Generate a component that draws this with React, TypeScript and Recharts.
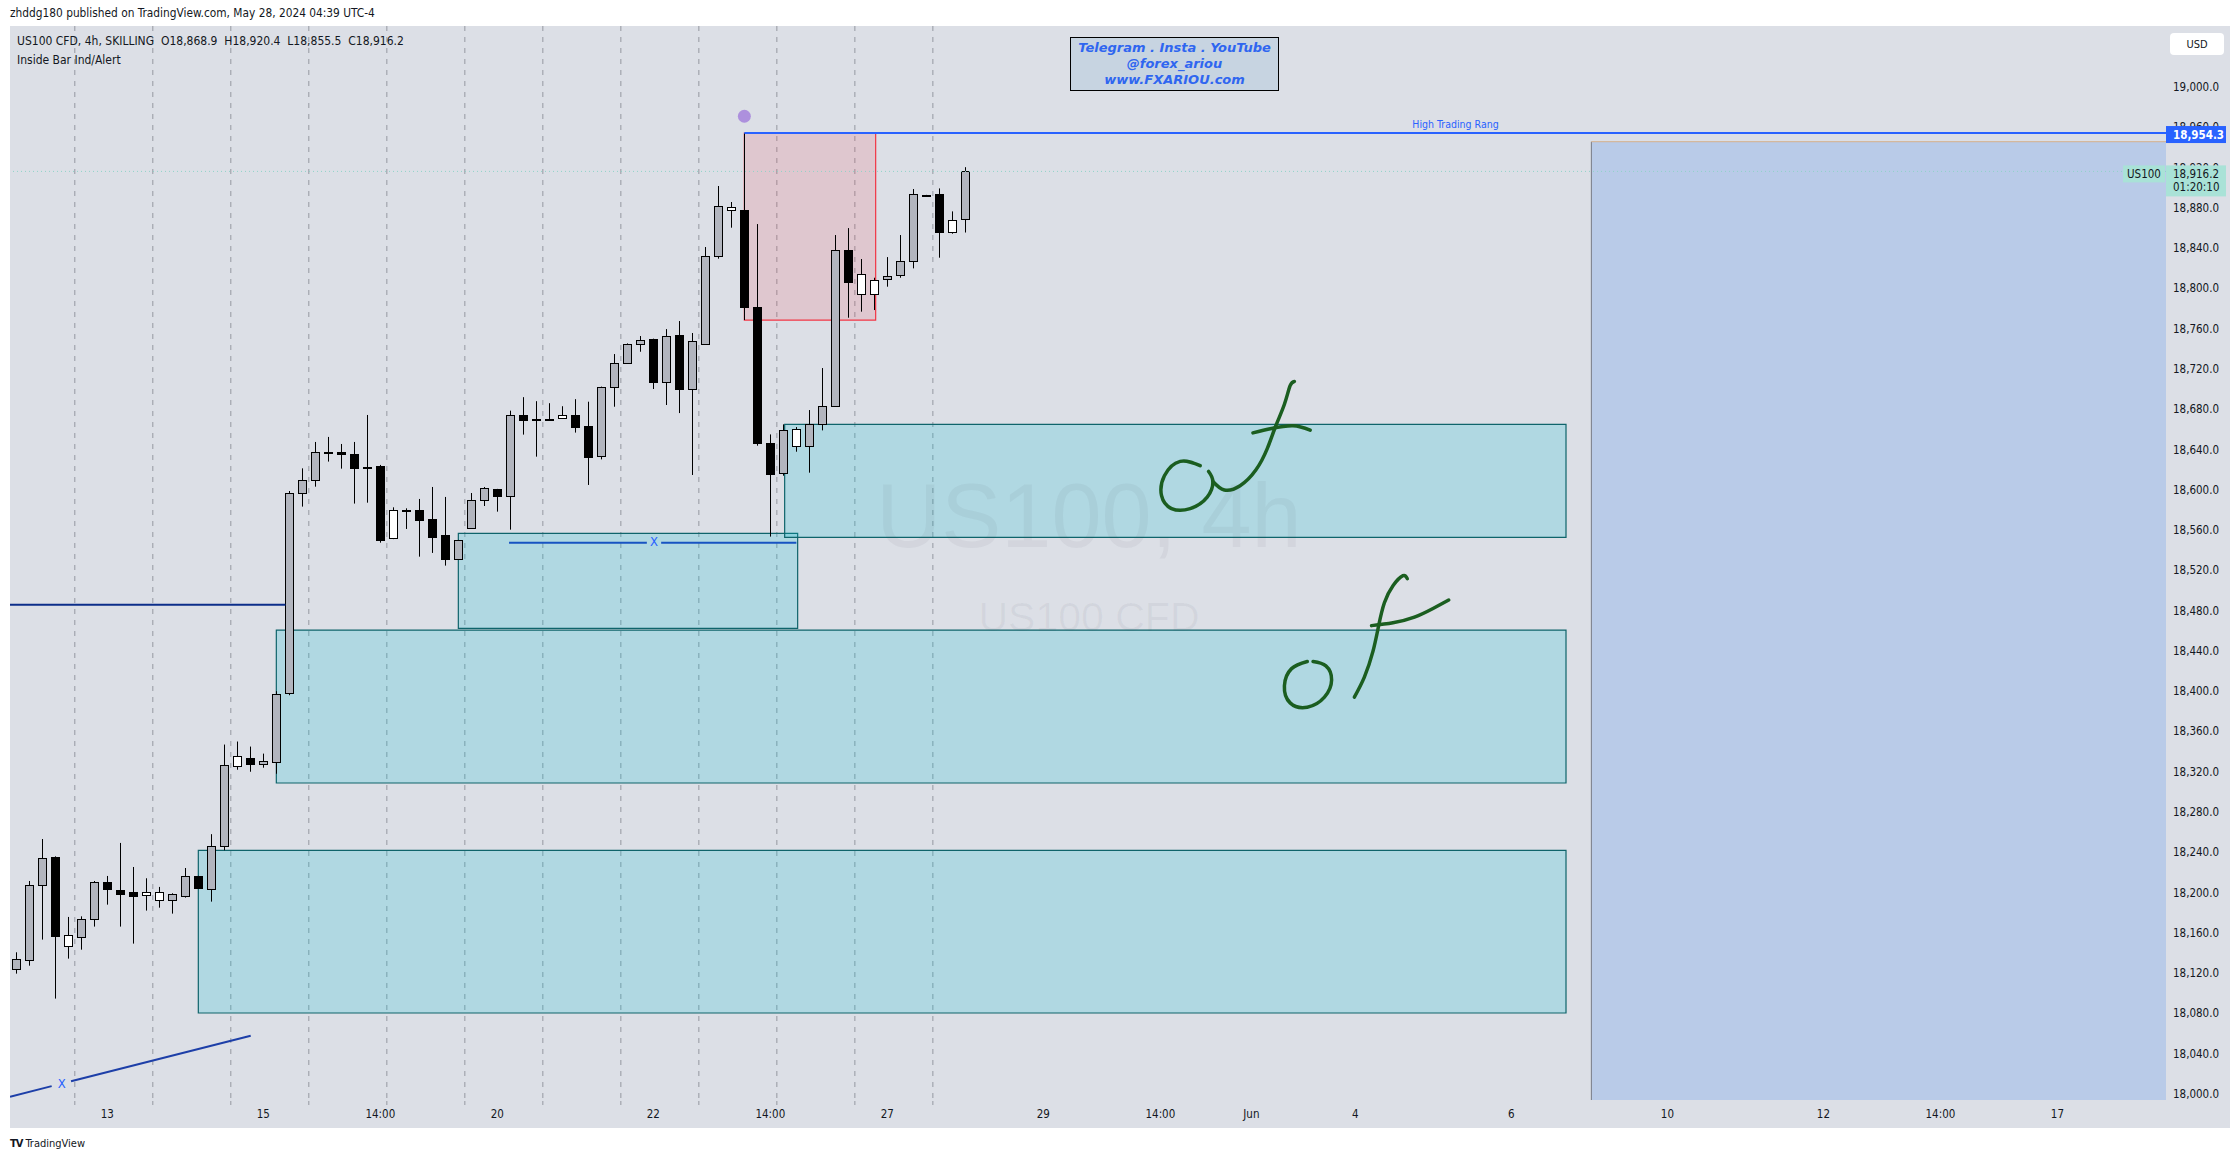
import {
  ComposedChart,
  Bar,
  Line,
  XAxis,
  YAxis,
  CartesianGrid,
  ReferenceArea,
  ReferenceLine,
  ReferenceDot,
} from 'recharts';

// US100 CFD 4h candles, one per index (0 = first bar on the left)
const OPEN = [
  18123.8, 18132.7, 18207.2, 18235.4, 18146.6, 18155.6, 18173.5, 18210.2, 18202.3, 18200.6,
  18197.3, 18192.3, 18192.3, 18197.0, 18216.2, 18203.9, 18246.5, 18326.0, 18334.0, 18328.0,
  18330.0, 18397.9, 18596.5, 18609.4, 18637.5, 18637.2, 18635.2, 18623.0, 18623.7, 18551.8,
  18579.6, 18580.0, 18571.0, 18555.1, 18531.6, 18561.8, 18589.6, 18600.5, 18594.2, 18674.3,
  18670.0, 18670.0, 18671.0, 18674.3, 18663.4, 18633.5, 18701.7, 18725.5, 18744.4, 18749.7,
  18707.3, 18753.4, 18700.4, 18744.4, 18831.8, 18877.5, 18877.5, 18781.2, 18646.8, 18617.0,
  18643.1, 18643.1, 18665.0, 18682.8, 18837.8, 18794.1, 18794.1, 18809.0, 18812.9, 18826.8,
  18892.6, 18893.4, 18855.6, 18868.9,
];
const HIGH = [
  18140.7, 18211.5, 18253.2, 18236.0, 18175.8, 18176.4, 18211.5, 18216.5, 18249.3, 18225.4,
  18214.2, 18205.6, 18199.3, 18224.4, 18216.6, 18258.0, 18347.0, 18350.0, 18345.0, 18338.0,
  18400.0, 18598.8, 18621.3, 18647.5, 18652.5, 18645.5, 18647.5, 18674.3, 18624.7, 18582.6,
  18581.6, 18590.9, 18602.8, 18592.9, 18550.3, 18596.8, 18602.8, 18600.9, 18678.6, 18692.0,
  18688.0, 18686.0, 18683.0, 18690.0, 18687.5, 18702.5, 18734.8, 18745.4, 18752.7, 18750.1,
  18759.6, 18767.6, 18755.7, 18841.1, 18901.7, 18885.8, 18954.3, 18863.9, 18655.0, 18665.0,
  18662.3, 18679.2, 18720.9, 18853.0, 18859.9, 18829.2, 18810.6, 18831.1, 18853.0, 18898.7,
  18892.9, 18899.3, 18876.5, 18920.4,
];
const LOW = [
  18119.5, 18127.4, 18153.3, 18094.7, 18134.4, 18143.3, 18166.2, 18188.0, 18166.2, 18149.3,
  18182.1, 18185.0, 18179.1, 18195.0, 18204.5, 18191.0, 18242.0, 18322.0, 18320.0, 18324.0,
  18318.0, 18396.0, 18583.3, 18603.1, 18628.0, 18621.0, 18586.3, 18587.2, 18547.5, 18551.0,
  18561.1, 18533.6, 18537.3, 18524.7, 18531.2, 18561.2, 18583.9, 18578.3, 18560.4, 18654.8,
  18632.9, 18669.0, 18670.5, 18656.8, 18604.8, 18630.2, 18682.5, 18725.0, 18737.1, 18700.1,
  18684.2, 18676.2, 18614.7, 18744.0, 18829.5, 18860.3, 18768.6, 18643.8, 18553.5, 18614.0,
  18637.8, 18617.0, 18659.0, 18682.3, 18770.9, 18776.9, 18778.5, 18801.7, 18810.6, 18819.9,
  18892.2, 18830.5, 18854.3, 18855.5,
];
const CLOSE = [
  18133.7, 18207.2, 18234.0, 18157.2, 18157.6, 18173.5, 18210.2, 18203.2, 18198.9, 18197.0,
  18200.3, 18200.6, 18198.3, 18216.2, 18204.9, 18245.9, 18327.0, 18336.0, 18328.0, 18331.0,
  18397.0, 18596.5, 18609.4, 18637.2, 18637.0, 18635.2, 18622.0, 18622.0, 18550.2, 18579.6,
  18579.0, 18570.4, 18553.5, 18531.6, 18549.8, 18589.6, 18601.5, 18594.2, 18674.3, 18669.3,
  18669.5, 18669.6, 18674.3, 18662.7, 18632.9, 18701.7, 18725.5, 18744.4, 18748.4, 18707.3,
  18752.4, 18700.4, 18747.4, 18831.8, 18881.5, 18880.5, 18781.8, 18646.8, 18616.0, 18659.0,
  18660.0, 18665.0, 18682.8, 18837.8, 18806.0, 18813.9, 18808.0, 18811.9, 18826.8, 18893.4,
  18892.4, 18856.3, 18867.6, 18916.2,
];
// u = up (grey), d = down (black), w = inside bar (white)
const KIND = [
  'u', 'u', 'u', 'd', 'w', 'u', 'u', 'd', 'd', 'd',
  'w', 'w', 'u', 'u', 'd', 'u', 'u', 'w', 'd', 'u',
  'u', 'u', 'u', 'u', 'd', 'd', 'd', 'd', 'd', 'w',
  'd', 'd', 'd', 'd', 'u', 'u', 'u', 'd', 'u', 'd',
  'd', 'd', 'w', 'd', 'd', 'u', 'u', 'u', 'u', 'd',
  'u', 'd', 'u', 'u', 'u', 'w', 'd', 'd', 'd', 'u',
  'w', 'u', 'u', 'u', 'd', 'w', 'w', 'u', 'u', 'u',
  'd', 'd', 'w', 'u',
];

const X_LABEL_POS = [7, 19, 28, 37, 49, 58, 67, 79, 88, 95, 103, 115, 127, 139, 148, 157];
const X_LABELS = ['13', '15', '14:00', '20', '22', '14:00', '27', '29', '14:00', 'Jun', '4', '6', '10', '12', '14:00', '17'];
const SESSION_POS = [4.5, 10.5, 16.5, 22.5, 28.5, 34.5, 40.5, 46.5, 52.5, 58.5, 64.5, 70.5];
const Y_TICKS = [
  18000, 18040, 18080, 18120, 18160, 18200, 18240, 18280, 18320, 18360, 18400, 18440, 18480,
  18520, 18560, 18600, 18640, 18680, 18720, 18760, 18800, 18840, 18880, 18920, 18960, 19000,
];
// ticks sitting under the price tags; the tags draw them so they end up underneath
const TICK_UNDER_HIGH = 18960;
const TICK_UNDER_LAST = 18920;

const LAST_PRICE = 18916.2;
const HIGH_RANGE = 18954.3;

// drawn zones: [from index, to index, bottom price, top price]
const ZONE_A = [59.1, 119.2, 18552.8, 18665.0];
const ZONE_B = [34.0, 60.1, 18462.4, 18556.8];
const ZONE_C = [20.0, 119.2, 18308.8, 18460.7];
const ZONE_D = [14.0, 119.2, 18080.4, 18242.0];
const RED_ZONE = [56.0, 66.1, 18768.6, 18954.3];
const PROJECTION = [121.15, 165.35, 17994, 18945.7];

const NAVY_LEVEL = [{ x: -0.485, p: 18485.9 }, { x: 20.7, p: 18485.9 }];
const X_LEVEL = [
  { x: 37.9, p: 18547.5 }, { x: 48.5, p: 18547.5 }, { x: 49.0, p: null },
  { x: 49.6, p: 18547.5 }, { x: 60.0, p: 18547.5 },
];
const TREND = [
  { x: -0.485, p: 17997.3 }, { x: 2.72, p: 18007.8 }, { x: 3.5, p: null },
  { x: 4.21, p: 18012.6 }, { x: 18.03, p: 18057.9 },
];
const HIGH_LINE = [{ x: 56, p: HIGH_RANGE }, { x: 165.35, p: HIGH_RANGE }];

// hand drawn green notes
const UP_LOOP = [
  { x: 91.06, p: 18623.9 }, { x: 89.52, p: 18628.2 }, { x: 88.31, p: 18613.9 }, { x: 88.09, p: 18594.1 },
  { x: 88.86, p: 18581.3 }, { x: 90.29, p: 18581.3 }, { x: 91.6, p: 18592.7 }, { x: 92.04, p: 18608.3 },
  { x: 91.71, p: 18618.2 },
];
const UP_HOOK = [
  { x: 92.04, p: 18608.3 }, { x: 92.92, p: 18599.8 }, { x: 94.13, p: 18604.0 }, { x: 95.34, p: 18619.6 },
  { x: 96.22, p: 18640.9 }, { x: 96.88, p: 18663.6 }, { x: 97.54, p: 18684.9 }, { x: 97.98, p: 18703.4 },
  { x: 98.31, p: 18707.6 },
];
const UP_BAR = [
  { x: 95.12, p: 18656.5 }, { x: 96.55, p: 18660.8 }, { x: 98.2, p: 18663.6 }, { x: 99.52, p: 18659.3 },
];
const LOW_LOOP = [
  { x: 99.3, p: 18429.5 }, { x: 98.09, p: 18422.4 }, { x: 97.54, p: 18405.4 }, { x: 97.98, p: 18388.4 },
  { x: 99.3, p: 18384.1 }, { x: 100.62, p: 18394.1 }, { x: 101.17, p: 18411.1 }, { x: 100.73, p: 18425.2 },
  { x: 99.74, p: 18429.5 },
];
const LOW_HOOK = [
  { x: 102.92, p: 18394.1 }, { x: 103.69, p: 18414.0 }, { x: 104.35, p: 18439.5 }, { x: 104.79, p: 18465.1 },
  { x: 105.23, p: 18487.8 }, { x: 105.89, p: 18504.7 }, { x: 106.66, p: 18514.7 }, { x: 106.99, p: 18511.8 },
];
const LOW_BAR = [
  { x: 104.24, p: 18465.1 }, { x: 105.89, p: 18467.9 }, { x: 107.54, p: 18473.5 }, { x: 108.97, p: 18482.1 },
  { x: 110.18, p: 18490.5 },
];

const X_MIN = -0.485;
const X_MAX = 165.35;
const Y_MIN = 17994;
const Y_MAX = 19060.6;

const CHART_W = 2220;
const CHART_H = 1102;
const AXIS_W = 64;
const AXIS_H = 28;
const PX_PER_UNIT = (CHART_H - AXIS_H) / (Y_MAX - Y_MIN);

const FONT = '"DejaVu Sans Condensed", "DejaVu Sans", sans-serif';
const TEXT = '#131722';
const ZONE_FILL = 'rgb(0, 188, 212)';
const ZONE_STROKE = '#0f646b';

const candles = OPEN.map((o, i) => ({ x: i, o, h: HIGH[i], l: LOW[i], c: CLOSE[i], k: KIND[i] }));

const fmt = (v: number) => v.toLocaleString('en-US', { minimumFractionDigits: 1, maximumFractionDigits: 1 });

function Candle(props: any) {
  const { x, y, width, payload } = props;
  if (x == null || y == null || !payload) return null;
  const col = Math.round(x + width / 2 - 0.5);
  const yOf = (v: number) => y + (payload.h - v) * PX_PER_UNIT;
  const top = Math.round(yOf(Math.max(payload.o, payload.c))) + 0.5;
  const bot = Math.round(yOf(Math.min(payload.o, payload.c))) + 0.5;
  const fill = payload.k === 'd' ? '#000' : payload.k === 'w' ? '#fff' : '#b2b5be';
  return (
    <g>
      <line x1={col + 0.5} x2={col + 0.5} y1={y} y2={yOf(payload.l)} stroke="#000" strokeWidth={1} />
      <rect x={col - 3.5} y={top} width={8} height={Math.max(bot - top, 1)} fill={fill} stroke="#000" strokeWidth={1} />
    </g>
  );
}

function XTick({ x, y, payload }: any) {
  const i = X_LABEL_POS.indexOf(payload.value);
  if (i >= 0) {
    return (
      <text x={x} y={y + 14} textAnchor="middle" dominantBaseline="central" fontSize={11.5} fontFamily={FONT} fill={TEXT}>
        {X_LABELS[i]}
      </text>
    );
  }
  return <line x1={x} x2={x} y1={y + 1} y2={y + 5} stroke="#9598a1" />;
}

function YTick({ x, y, payload }: any) {
  if (payload.value === TICK_UNDER_HIGH || payload.value === TICK_UNDER_LAST) return null;
  return (
    <text x={x + 7} y={y} textAnchor="start" dominantBaseline="central" fontSize={11.5} fontFamily={FONT} fill={TEXT}>
      {fmt(payload.value)}
    </text>
  );
}

function HighTag({ viewBox }: any) {
  const { x, y } = viewBox;
  const tickY = y - (TICK_UNDER_HIGH - HIGH_RANGE) * PX_PER_UNIT;
  return (
    <g fontFamily={FONT} fontSize={11.5}>
      <text x={x + 7} y={tickY} dominantBaseline="central" fill={TEXT}>{fmt(TICK_UNDER_HIGH)}</text>
      <rect x={x} y={y - 7} width={60} height={17} fill="#2962ff" />
      <text x={x + 7} y={y + 1.5} dominantBaseline="central" fontWeight={700} fill="#fff">
        {fmt(HIGH_RANGE)}
      </text>
    </g>
  );
}

function LastTag({ viewBox }: any) {
  const { x, y } = viewBox;
  const tickY = y - (TICK_UNDER_LAST - LAST_PRICE) * PX_PER_UNIT;
  return (
    <g fontFamily={FONT} fontSize={11.5} fill={TEXT}>
      <text x={x + 7} y={tickY} dominantBaseline="central">{fmt(TICK_UNDER_LAST)}</text>
      <rect x={x - 43} y={y - 6} width={42} height={17} fill="#a9e2d7" />
      <text x={x - 22} y={y + 2.5} textAnchor="middle" dominantBaseline="central">US100</text>
      <rect x={x} y={y - 6} width={60} height={31} fill="#a9e2d7" />
      <text x={x + 7} y={y + 2.5} dominantBaseline="central">{fmt(LAST_PRICE)}</text>
      <text x={x + 7} y={y + 16} dominantBaseline="central">01:20:10</text>
    </g>
  );
}

function TextMark({ viewBox, text, dy, size }: any) {
  return (
    <text x={viewBox.x} y={viewBox.y + dy} textAnchor="middle" dominantBaseline="central" fontSize={size} fontFamily={FONT} fill="#2962ff">
      {text}
    </text>
  );
}

function zone(z: number[], fill: string, opacity: number, stroke: string, key: string) {
  return (
    <ReferenceArea
      key={key}
      x1={z[0]}
      x2={z[1]}
      y1={z[2]}
      y2={z[3]}
      fill={fill}
      fillOpacity={opacity}
      stroke={stroke}
      strokeWidth={1.2}
      ifOverflow="hidden"
    />
  );
}

export default function App() {
  const scribbles = [UP_LOOP, UP_HOOK, UP_BAR, LOW_LOOP, LOW_HOOK, LOW_BAR];
  const allTicks = [...SESSION_POS, ...X_LABEL_POS].sort((a, b) => a - b);

  return (
    <div style={{ position: 'absolute', left: 0, top: 0, width: 2240, height: 1163, background: '#fff', overflow: 'hidden', fontFamily: FONT, color: TEXT }}>
      <div style={{ position: 'absolute', left: 10, top: 6, fontSize: 11.8, whiteSpace: 'nowrap' }}>
        zhddg180 published on TradingView.com, May 28, 2024 04:39 UTC-4
      </div>

      <div style={{ position: 'absolute', left: 10, top: 26, width: CHART_W, height: CHART_H, background: '#dcdfe6' }}>
        <ComposedChart width={CHART_W} height={CHART_H} data={candles} margin={{ top: 0, right: 0, bottom: 0, left: 0 }}>
          <CartesianGrid
            horizontal={false}
            stroke="#9598a1"
            strokeDasharray="5 6"
            verticalCoordinatesGenerator={({ xAxis, offset }: any) =>
              SESSION_POS.map((v) =>
                xAxis && typeof xAxis.scale === 'function'
                  ? xAxis.scale(v)
                  : offset.left + ((v - X_MIN) / (X_MAX - X_MIN)) * offset.width,
              )
            }
          />
          <XAxis
            dataKey="x"
            type="number"
            domain={[X_MIN, X_MAX]}
            allowDataOverflow
            ticks={allTicks}
            interval={0}
            tick={<XTick />}
            tickLine={false}
            axisLine={false}
            tickSize={0}
            tickMargin={0}
            height={AXIS_H}
          />
          <YAxis
            orientation="right"
            type="number"
            domain={[Y_MIN, Y_MAX]}
            allowDataOverflow
            ticks={Y_TICKS}
            interval={0}
            tick={<YTick />}
            tickLine={false}
            axisLine={false}
            tickSize={0}
            tickMargin={0}
            width={AXIS_W}
          />

          {zone(PROJECTION, '#b9cbe8', 1, 'none', 'proj')}
          <ReferenceLine segment={[{ x: PROJECTION[0], y: PROJECTION[2] }, { x: PROJECTION[0], y: PROJECTION[3] }]} stroke="#787b86" ifOverflow="hidden" />
          <ReferenceLine segment={[{ x: PROJECTION[0], y: PROJECTION[3] }, { x: PROJECTION[1], y: PROJECTION[3] }]} stroke="#d4b08c" ifOverflow="hidden" />

          {zone(ZONE_D, ZONE_FILL, 0.2, ZONE_STROKE, 'zd')}
          {zone(ZONE_C, ZONE_FILL, 0.2, ZONE_STROKE, 'zc')}
          {zone(ZONE_B, ZONE_FILL, 0.2, ZONE_STROKE, 'zb')}
          {zone(ZONE_A, ZONE_FILL, 0.2, ZONE_STROKE, 'za')}
          {zone(RED_ZONE, '#f23645', 0.14, '#f23645', 'red')}

          <ReferenceLine y={LAST_PRICE} stroke="#8fd3c7" strokeDasharray="1 3" />

          <Line data={NAVY_LEVEL} dataKey="p" stroke="#0c2e8a" strokeWidth={2} dot={false} activeDot={false} isAnimationActive={false} />
          <Line data={X_LEVEL} dataKey="p" stroke="#1753c2" strokeWidth={2} dot={false} activeDot={false} isAnimationActive={false} />
          <Line data={TREND} dataKey="p" stroke="#1d3fa8" strokeWidth={2} dot={false} activeDot={false} isAnimationActive={false} />
          <Line data={HIGH_LINE} dataKey="p" stroke="#2962ff" strokeWidth={2} dot={false} activeDot={false} isAnimationActive={false} />

          {scribbles.map((s, i) => (
            <Line
              key={'s' + i}
              data={s}
              dataKey="p"
              type="natural"
              stroke="#1b5e20"
              strokeWidth={3.5}
              strokeLinecap="round"
              strokeLinejoin="round"
              dot={false}
              activeDot={false}
              isAnimationActive={false}
            />
          ))}

          <Bar dataKey={(d: any) => [d.l, d.h]} barSize={9} shape={Candle} isAnimationActive={false} />

          <ReferenceDot x={56} y={18971} r={6.5} fill="#ad90dd" stroke="none" />
          <ReferenceDot x={110.7} y={HIGH_RANGE} r={0} stroke="none" label={<TextMark text="High Trading Rang" dy={-9} size={10.5} />} />
          <ReferenceDot x={49.05} y={18547.5} r={0} stroke="none" label={<TextMark text="X" dy={-1} size={13} />} />
          <ReferenceDot x={3.49} y={18010.6} r={0} stroke="none" label={<TextMark text="X" dy={0} size={13} />} />
          <ReferenceDot x={X_MAX} y={HIGH_RANGE} r={0} stroke="none" label={<HighTag />} />
          <ReferenceDot x={X_MAX} y={LAST_PRICE} r={0} stroke="none" label={<LastTag />} />
        </ComposedChart>

        <div style={{ position: 'absolute', left: 7, top: 8, fontSize: 12, whiteSpace: 'pre' }}>
          {'US100 CFD, 4h, SKILLING  O18,868.9  H18,920.4  L18,855.5  C18,916.2'}
        </div>
        <div style={{ position: 'absolute', left: 7, top: 27, fontSize: 12, whiteSpace: 'pre' }}>Inside Bar Ind/Alert</div>

        <div style={{ position: 'absolute', left: 2160, top: 7, width: 54, height: 22, background: '#fff', borderRadius: 4, fontSize: 11, display: 'flex', alignItems: 'center', justifyContent: 'center' }}>
          USD
        </div>

        <div
          style={{
            position: 'absolute', left: 1060, top: 11, width: 209, height: 54, background: '#c7d4e1', border: '1px solid #000',
            color: '#2f66f0', fontFamily: '"DejaVu Sans", sans-serif', fontWeight: 700, fontStyle: 'italic', fontSize: 13,
            lineHeight: '16px', textAlign: 'center', paddingTop: 2, boxSizing: 'border-box',
          }}
        >
          <div>Telegram . Insta . YouTube</div>
          <div>@forex_ariou</div>
          <div>www.FXARIOU.com</div>
        </div>

        <div style={{ position: 'absolute', left: 1079 - 300, top: 440, width: 600, textAlign: 'center', fontSize: 90, lineHeight: '100px', color: 'rgba(60,70,90,0.06)', pointerEvents: 'none', fontFamily: '"Liberation Sans", sans-serif' }}>
          US100, 4h
        </div>
        <div style={{ position: 'absolute', left: 1079 - 300, top: 567, width: 600, textAlign: 'center', fontSize: 41, lineHeight: '48px', color: 'rgba(60,70,90,0.06)', pointerEvents: 'none', fontFamily: '"Liberation Sans", sans-serif' }}>
          US100 CFD
        </div>
      </div>

      <div style={{ position: 'absolute', left: 10, top: 1137, fontSize: 11, whiteSpace: 'nowrap', display: 'flex', alignItems: 'center', gap: 3 }}>
        <span style={{ fontWeight: 900, fontSize: 11, letterSpacing: -1 }}>TV</span>
        <span>TradingView</span>
      </div>
    </div>
  );
}
